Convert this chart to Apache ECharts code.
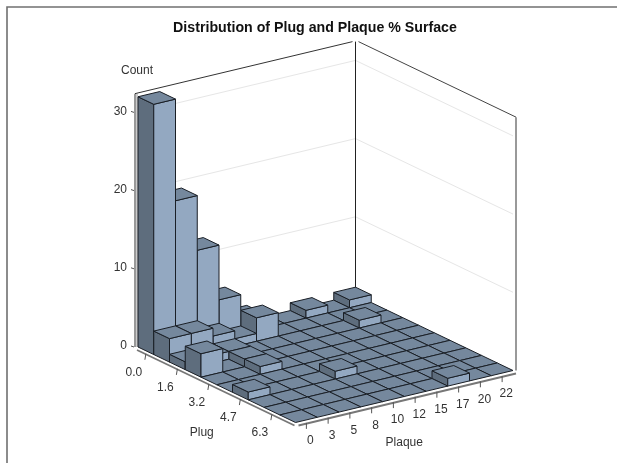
<!DOCTYPE html>
<html><head><meta charset="utf-8"><style>html,body{margin:0;padding:0;background:#fff}#c{width:617px;height:463px}</style>
<script src="https://cdn.jsdelivr.net/npm/echarts@6/dist/echarts.min.js"></script></head>
<body><div id="c"></div><script>
// Counts per plug bin (rows) across the ten plaque bins
const plug0 = [32,19,12,5,2,0,0,1,0,1];
const plug1 = [3,3,2,1,3,0,0,0,0,0];
const plug2 = [1,1,1,0,0,0,0,0,1,0];
const plug3 = [3,0,1,0,0,0,0,0,0,0];
const plug4 = [0,0,1,0,0,0,0,0,0,0];
const plug5 = [0,0,0,0,0,0,0,0,0,0];
const plug6 = [1,0,0,0,1,0,0,0,0,0];
const plug7 = [0,0,0,0,0,0,0,0,0,0];
const plug8 = [0,0,0,0,0,0,0,0,0,0];
const plug9 = [0,0,0,0,0,0,0,1,0,0];
const plugRows = [plug0,plug1,plug2,plug3,plug4,plug5,plug6,plug7,plug8,plug9];
const plugTickLabels = ['0.0','1.6','3.2','4.7','6.3'];
const plugTickBins = [0,2,4,6,8];
const plaqueTickLabels = ['0','3','5','8','10','12','15','17','20','22'];
const countTicks = [0,10,20,30];
const countTop = 32.4;
const title = 'Distribution of Plug and Plaque % Surface';

// oblique projection: plot units per plug bin, plaque bin and count
const nBins = 10;
const U = [15.75, -7.55], V = [21.75, 5.2], H = 7.82, O = [0, 76];
const proj = (p, q, h) => [O[0] + p*U[0] + q*V[0], O[1] + p*U[1] + q*V[1] + h*H];

const bars = [];
for (let q = nBins-1; q >= 0; q--) for (let p = 0; p < nBins; p++) bars.push([p, q, plugRows[p][q]]);

const TOP='#75889D', LEFT='#5E6D7D', FRONT='#93A8C1', EDGE='#1a1f26';
function poly(api, pts, fill, stroke, w) {
  return {type:'polygon', shape:{points:pts.map(a=>api.coord(a))},
    style:{fill:fill, stroke:stroke||EDGE, lineWidth:w||1}};
}
function line(api, a, b, stroke, w, dx, dy) {
  const s=api.coord(a), e=api.coord(b); dx=dx||0; dy=dy||0;
  return {type:'line', shape:{x1:s[0]+dx,y1:s[1]+dy,x2:e[0]+dx,y2:e[1]+dy}, style:{stroke:stroke,lineWidth:w}};
}
function text(api, a, str, dx, dy, align) {
  const s=api.coord(a);
  return {type:'text', style:{x:s[0]+dx,y:s[1]+dy,text:str,fill:'#333',font:'12px "Liberation Sans"',
    textAlign:align||'center',textVerticalAlign:'middle'}};
}
const chart = echarts.init(document.getElementById('c'));
chart.setOption({
  animation:false,
  backgroundColor:'#fff',
  title:{text:title,left:310,top:16,textAlign:'center',
    textStyle:{fontFamily:'Liberation Sans',fontSize:14.2,fontWeight:'bold',color:'#111'}},
  grid:{left:138,top:41,width:377,height:382},
  xAxis:{type:'value',min:0,max:377,show:false},
  yAxis:{type:'value',min:0,max:382,show:false},
  graphic:[{type:'rect',shape:{x:7,y:7,width:640,height:470},style:{fill:'none',stroke:'#707070',lineWidth:1.6},silent:true}],
  series:[
    {type:'custom',coordinateSystem:'cartesian2d',silent:true,clip:false,z:1,
     data:countTicks.map(c=>[c]),
     renderItem(params,api){
       const c=api.value(0), ch=[];
       const a=proj(0,0,c), b=proj(0,nBins,c), d=proj(nBins,nBins,c);
       if(c>0){ch.push(line(api,a,b,'#e6e6e6',1),line(api,b,d,'#e6e6e6',1));}
       const s=api.coord(a);
       ch.push({type:'line',shape:{x1:s[0]-7,y1:s[1]-1,x2:s[0]-4,y2:s[1]},style:{stroke:'#555',lineWidth:1}});
       ch.push(text(api,a,String(c),-11,-1,'right'));
       return {type:'group',children:ch};
     }},
    {type:'custom',coordinateSystem:'cartesian2d',silent:true,clip:false,z:2,
     data:[[countTop]],
     renderItem(params,api){
       const t=api.value(0);
       const L0=proj(0,0,0),LT=proj(0,0,t),B0=proj(0,nBins,0),BT=proj(0,nBins,t),R0=proj(nBins,nBins,0),RT=proj(nBins,nBins,t),F0=proj(nBins,0,0);
       return {type:'group',children:[
         line(api,L0,LT,'#777',1.5,-3,0),
         line(api,L0,LT,'#999',1,-1,0),
         line(api,LT,BT,'#333',1,-3,0),
         line(api,B0,BT,'#222',1),
         line(api,BT,RT,'#444',1,3,0),
         line(api,R0,RT,'#777',1.5,3,0),
         line(api,L0,F0,'#777',1.8,-1,3),
         line(api,F0,R0,'#777',1.8,3,3),
         text(api,LT,'Count',-1,-23)
       ]};
     }},
    {type:'custom',coordinateSystem:'cartesian2d',silent:true,clip:false,z:3,
     data:bars,
     renderItem(params,api){
       const p=api.value(0),q=api.value(1),h=api.value(2);
       const a=proj(p,q,h),b=proj(p+1,q,h),c=proj(p+1,q+1,h),d=proj(p,q+1,h);
       const ch=[];
       if(h>0){
         ch.push(poly(api,[a,b,proj(p+1,q,0),proj(p,q,0)],LEFT));
         ch.push(poly(api,[b,c,proj(p+1,q+1,0),proj(p+1,q,0)],FRONT));
       }
       ch.push(poly(api,[a,b,c,d],TOP));
       return {type:'group',children:ch};
     }},
    {type:'custom',coordinateSystem:'cartesian2d',silent:true,clip:false,z:4,
     data:plugTickBins.map((b,i)=>[b,i]),
     renderItem(params,api){
       const s=proj(api.value(0)+0.5,0,0);
       const c=api.coord(s);
       return {type:'group',children:[
         {type:'line',shape:{x1:c[0],y1:c[1]+3,x2:c[0]-1,y2:c[1]+9},style:{stroke:'#555',lineWidth:1}},
         text(api,s,plugTickLabels[api.value(1)],-12,22)
       ]};
     }},
    {type:'custom',coordinateSystem:'cartesian2d',silent:true,clip:false,z:4,
     data:plaqueTickLabels.map((l,i)=>[i]),
     renderItem(params,api){
       const i=api.value(0);
       const s=proj(nBins,i+0.5,0);
       const c=api.coord(s);
       return {type:'group',children:[
         {type:'line',shape:{x1:c[0],y1:c[1]+3,x2:c[0],y2:c[1]+9},style:{stroke:'#555',lineWidth:1}},
         text(api,s,plaqueTickLabels[i],4,21)
       ]};
     }},
    {type:'custom',coordinateSystem:'cartesian2d',silent:true,clip:false,z:4,
     data:[[0],[1]],
     renderItem(params,api){
       const isPlug=api.value(0)===0;
       const s=isPlug?proj(nBins*0.5,0,0):proj(nBins,5,0);
       return text(api,s,isPlug?'Plug':'Plaque',isPlug?-15:0,isPlug?48:46);
     }}
  ]
});
</script></body></html>
